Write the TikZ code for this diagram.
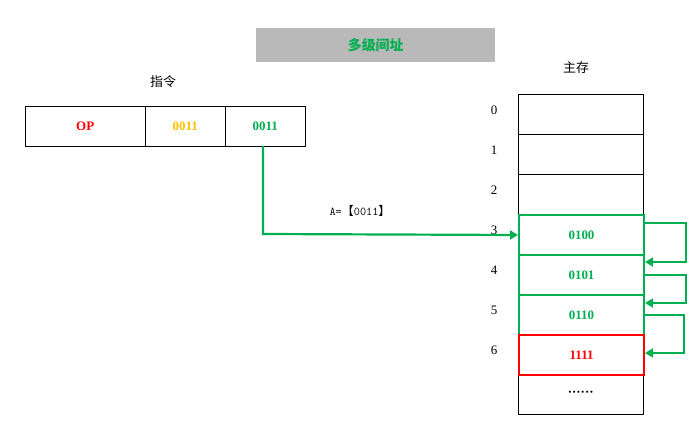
\documentclass[tikz,border=0pt]{standalone}
\usepackage{fontspec}
\setmainfont{Liberation Serif}
\newfontfamily\cjk{Noto Sans CJK SC}
\usetikzlibrary{arrows.meta}
\definecolor{gr}{RGB}{0,176,80}
\definecolor{yl}{RGB}{255,192,0}
\begin{document}
\begin{tikzpicture}[x=1bp,y=-1bp,
  cell/.style={draw,thin,minimum width=125bp,minimum height=40bp,inner sep=0,anchor=north west,font=\fontsize{13}{15}\selectfont\bfseries},
  lbl/.style={font=\fontsize{13}{15}\selectfont},
  ga/.style={draw=gr,line width=2.2pt,-{Triangle[length=8pt,width=9pt]}}]
\useasboundingbox (0,0) rectangle (699,437);
\node[fill=gray!55,minimum width=239bp,minimum height=34bp,inner sep=0,anchor=north west,text=gr,font=\cjk\fontsize{14}{16}\selectfont\bfseries] (title) at (256,28) {多级间址};
\node[font=\cjk\fontsize{13}{15}\selectfont] (zl) at (163,82) {指令};
\node[font=\cjk\fontsize{13}{15}\selectfont] (zc) at (576,68) {主存};
\node[cell,minimum width=120bp,text=red] (op) at (25,106) {OP};
\node[cell,minimum width=80bp,text=yl] (a1) at (145,106) {0011};
\node[cell,minimum width=80bp,text=gr] (a2) at (225,106) {0011};
\foreach \i in {0,1,2}{
  \node[cell] (m\i) at (518,94+40*\i) {};}
\node[cell] (m7) at (518,374) {\textperiodcentered\textperiodcentered\textperiodcentered\textperiodcentered\textperiodcentered\textperiodcentered};
\node[cell,draw=gr,line width=2pt,text=gr] (m3) at (518,214) {0100};
\node[cell,draw=gr,line width=2pt,text=gr] (m4) at (518,254) {0101};
\node[cell,draw=gr,line width=2pt,text=gr] (m5) at (518,294) {0110};
\node[cell,draw=red,line width=2.2pt,text=red] (m6) at (518,334) {1111};
\foreach \i in {0,...,6}{\node[lbl] (n\i) at (494,110+40*\i) {\i};}
\coordinate (s) at (263,146);
\draw[ga] (s) -- (263,234) -- (m3.west);
\node[font=\ttfamily\fontsize{12}{14}\selectfont] (lab) at (360,211) {A=\cjk【\ttfamily0011\cjk】};
\draw[ga] (643,223) -- (686,223) -- (686,262) -- (645,262);
\draw[ga] (643,275) -- (686,275) -- (686,303) -- (645,303);
\draw[ga] (643,315) -- (684,315) -- (684,353) -- (645,353);
\end{tikzpicture}
\end{document}
